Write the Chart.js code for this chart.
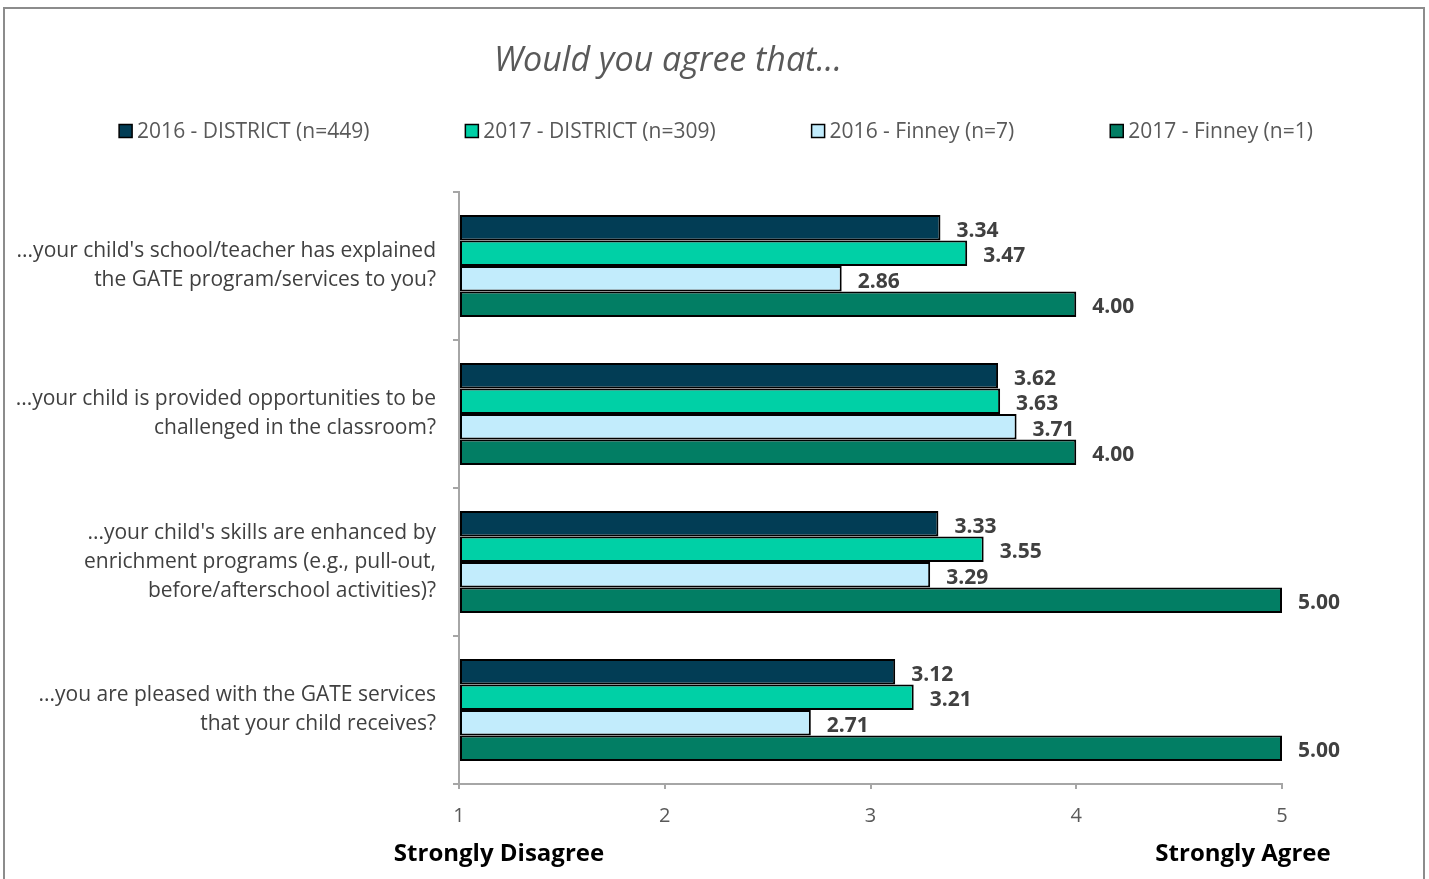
<!DOCTYPE html>
<html>
<head>
<meta charset="utf-8">
<title>Would you agree that...</title>
<script src="https://cdn.jsdelivr.net/npm/chart.js@4.4.1/dist/chart.umd.min.js"></script>
<style>
    html, body { margin: 0; padding: 0; background: #fff; overflow: hidden; }
    #wrap { position: relative; width: 1429px; height: 879px; }
</style>
</head>
<body>
<div id="wrap"><canvas id="gateChart" width="1429" height="879"></canvas></div>
<script>
// survey questions (y axis categories)
const questions = [
    ["...your child's school/teacher has explained", "the GATE program/services to you?"],
    ["...your child is provided opportunities to be", "challenged in the classroom?"],
    ["...your child's skills are enhanced by", "enrichment programs (e.g., pull-out,", "before/afterschool activities)?"],
    ["...you are pleased with the GATE services", "that your child receives?"]
];

const seriesNames = ["2016 - DISTRICT (n=449)", "2017 - DISTRICT (n=309)", "2016 - Finney (n=7)", "2017 - Finney (n=1)"];
const district2016 = [3.34, 3.62, 3.33, 3.12];
const district2017 = [3.47, 3.63, 3.55, 3.21];
const finney2016 = [2.86, 3.71, 3.29, 2.71];
const finney2017 = [4.00, 4.00, 5.00, 5.00];

const scaleTicks = [1, 2, 3, 4, 5];
const scaleEnds = ["Strongly Disagree", "Strongly Agree"];
const chartTitle = "Would you agree that...";

const FONT = "'Open Sans', sans-serif";
const colors = ['#023D55', '#00D0A6', '#C2ECFC', '#027E64'];

// Frame, title, legend and end captions
const decorPlugin = {
    id: 'decor',
    beforeDraw: function (chart) {
        const ctx = chart.ctx;
        ctx.save();
        ctx.fillStyle = '#fff';
        ctx.fillRect(0, 0, chart.width, chart.height);
        ctx.strokeStyle = '#8C8C8C';
        ctx.lineWidth = 2;
        ctx.strokeRect(4, 8, 1420, 900);
        ctx.restore();
    },
    afterDraw: function (chart) {
        const ctx = chart.ctx;
        ctx.save();

        // title
        ctx.fillStyle = '#595959';
        ctx.font = 'italic 34px ' + FONT;
        ctx.textAlign = 'center';
        ctx.textBaseline = 'middle';
        ctx.fillText(chartTitle, 668, 61);

        // legend
        ctx.font = '21px ' + FONT;
        const box = 13, gapText = 5, gapItem = 96;
        const items = chart.data.datasets.map(function (ds) {
            return { label: ds.label, color: ds.backgroundColor, w: box + gapText + ctx.measureText(ds.label).width };
        });
        let total = items.reduce(function (s, it) { return s + it.w; }, 0) + gapItem * (items.length - 1);
        let x = 716 - total / 2;
        const ly = 131;
        items.forEach(function (it) {
            ctx.fillStyle = it.color;
            ctx.fillRect(x, ly - box / 2, box, box);
            ctx.strokeStyle = '#000';
            ctx.lineWidth = 1.5;
            ctx.strokeRect(x, ly - box / 2, box, box);
            ctx.fillStyle = '#595959';
            ctx.textAlign = 'left';
            ctx.fillText(it.label, x + box + gapText, ly + 1);
            x += it.w + gapItem;
        });

        // scale end captions
        const xs = chart.scales.x;
        ctx.fillStyle = '#000';
        ctx.font = 'bold 24px ' + FONT;
        ctx.textAlign = 'center';
        ctx.fillText(scaleEnds[0], xs.getPixelForValue(1) + 40, 854);
        ctx.fillText(scaleEnds[1], xs.getPixelForValue(5) - 39, 854);

        ctx.restore();
    }
};

// Value labels at the end of each bar
const valueLabels = {
    id: 'valueLabels',
    afterDatasetsDraw: function (chart) {
        const ctx = chart.ctx;
        ctx.save();
        ctx.font = 'bold 21px ' + FONT;
        ctx.fillStyle = '#404040';
        ctx.textAlign = 'left';
        ctx.textBaseline = 'middle';
        chart.data.datasets.forEach(function (ds, i) {
            const meta = chart.getDatasetMeta(i);
            meta.data.forEach(function (bar, j) {
                ctx.fillText(Number(ds.data[j]).toFixed(2), bar.x + 16, bar.y + 3);
            });
        });
        ctx.restore();
    }
};

function makeDataset(label, data, color) {
    return {
        label: label,
        data: data,
        base: 1,
        backgroundColor: color,
        borderColor: '#000',
        borderWidth: 2,
        borderSkipped: false,
        categoryPercentage: 0.69,
        barPercentage: 1.0
    };
}

function initChart() {
    const ctx = document.getElementById('gateChart');
    new Chart(ctx, {
        type: 'bar',
        data: {
            labels: questions,
            datasets: [
                makeDataset(seriesNames[0], district2016, colors[0]),
                makeDataset(seriesNames[1], district2017, colors[1]),
                makeDataset(seriesNames[2], finney2016, colors[2]),
                makeDataset(seriesNames[3], finney2017, colors[3])
            ]
        },
        options: {
            indexAxis: 'y',
            responsive: false,
            animation: false,
            devicePixelRatio: 1,
            layout: { padding: { top: 192, right: 147, bottom: 0, left: 0 } },
            scales: {
                x: {
                    min: scaleTicks[0],
                    max: scaleTicks[scaleTicks.length - 1],
                    afterBuildTicks: function (scale) {
                        scale.ticks = scaleTicks.map(function (v) { return { value: v }; });
                    },
                    afterFit: function (scale) { scale.height = 95; },
                    grid: { drawOnChartArea: false, drawTicks: true, tickLength: 5, color: '#A6A6A6', lineWidth: 2 },
                    border: { color: '#A6A6A6', width: 2 },
                    ticks: { color: '#595959', font: { family: FONT, size: 20 }, padding: 15 }
                },
                y: {
                    afterFit: function (scale) { scale.width = 459; },
                    grid: { drawOnChartArea: false, drawTicks: true, tickLength: 6, color: '#A6A6A6', lineWidth: 2 },
                    border: { color: '#A6A6A6', width: 2 },
                    ticks: { color: '#404040', font: { family: FONT, size: 21, lineHeight: 1.38 }, padding: 17 }
                }
            },
            plugins: {
                legend: { display: false },
                title: { display: false },
                tooltip: { enabled: false }
            }
        },
        plugins: [decorPlugin, valueLabels]
    });
}

document.addEventListener('DOMContentLoaded', initChart);
</script>
</body>
</html>
